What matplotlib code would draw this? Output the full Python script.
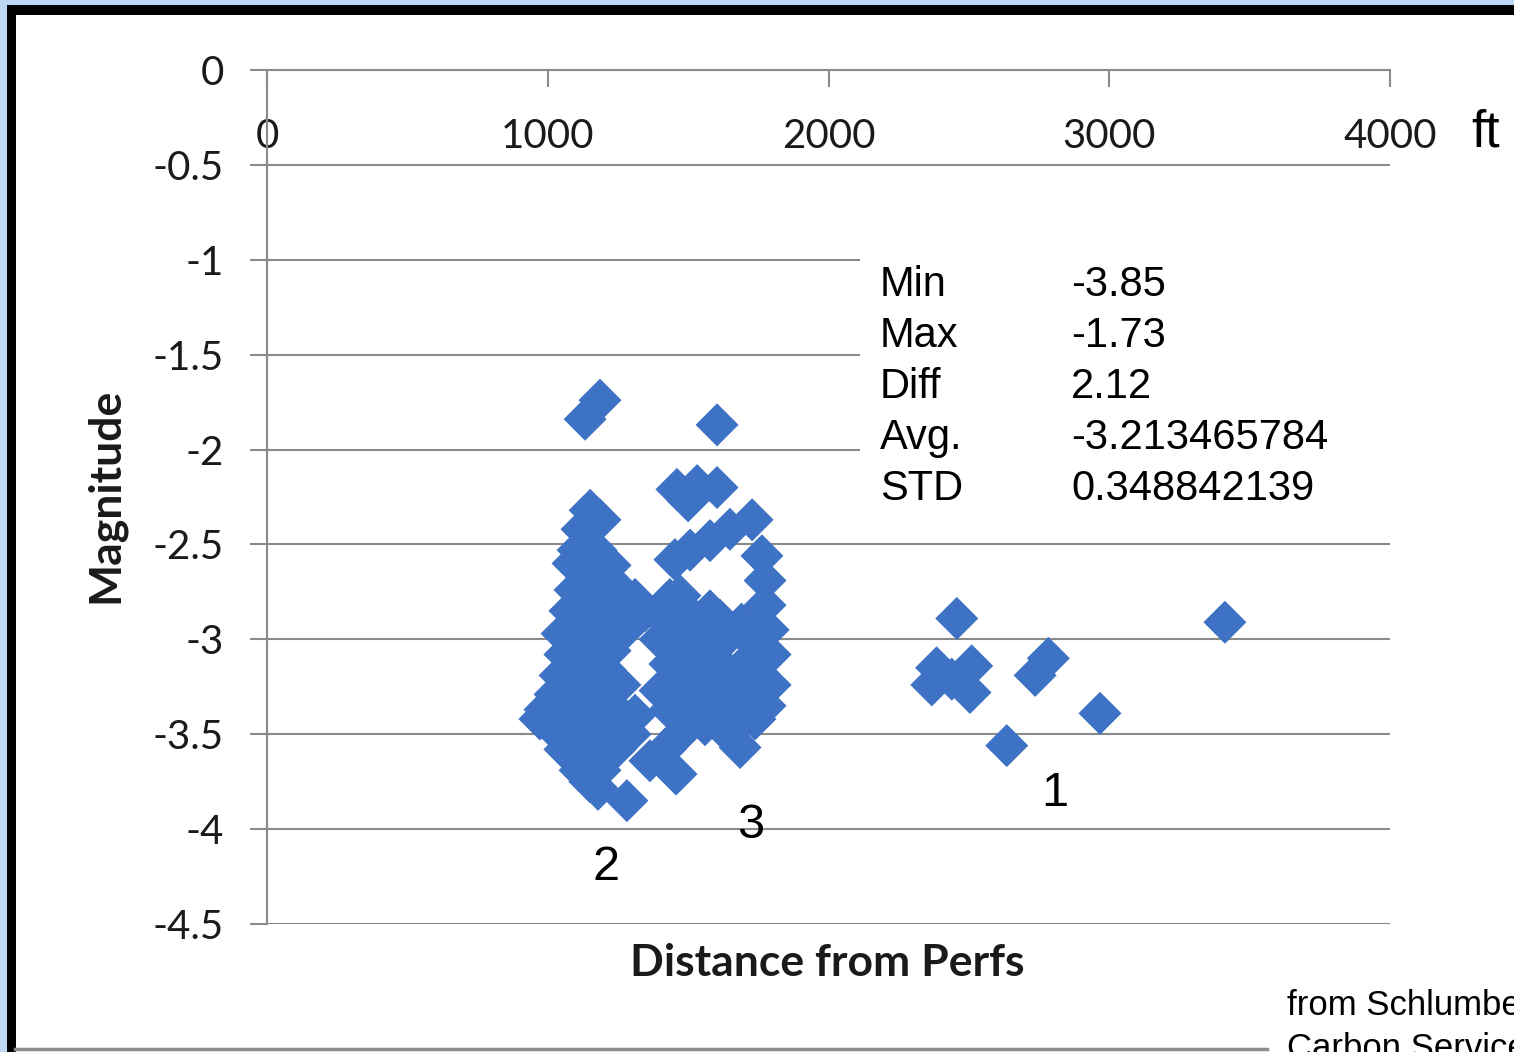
import matplotlib
matplotlib.use("Agg")
import matplotlib.pyplot as plt
from matplotlib.patches import Rectangle
from matplotlib.lines import Line2D

# ---------------- data ----------------
# cluster "2" (near perfs)
dist_c2 = [1186, 1133,
           1151, 1122, 1186,
           1108, 1172,
           1115, 1179, 1222, 1090,
           1097, 1168, 1257, 1311, 1140,
           1079, 1151, 1222, 1293, 1346,
           1051, 1133, 1204, 1275, 1250,
           1061, 1151, 1222, 1100,
           1044, 1133, 1204, 1257, 1180,
           1026, 1097, 1186,
           990, 1079, 1168, 1240, 1311,
           972, 1026, 1115, 1204, 1293, 1060, 1140, 1225,
           1061, 1151, 1240,
           1115, 1186, 1090, 1200,
           1179, 1282, 1150]
mag_c2 = [-1.74, -1.84,
          -2.32, -2.42, -2.37,
          -2.53, -2.53,
          -2.63, -2.63, -2.61, -2.60,
          -2.74, -2.74, -2.74, -2.79, -2.70,
          -2.85, -2.85, -2.85, -2.87, -2.85,
          -2.97, -2.95, -2.95, -2.95, -2.90,
          -3.08, -3.06, -3.06, -3.05,
          -3.19, -3.16, -3.16, -3.24, -3.10,
          -3.29, -3.27, -3.27,
          -3.37, -3.37, -3.37, -3.37, -3.40,
          -3.42, -3.48, -3.48, -3.48, -3.50, -3.42, -3.42, -3.45,
          -3.58, -3.58, -3.58,
          -3.69, -3.69, -3.62, -3.62,
          -3.79, -3.85, -3.75]

# cluster "3"
dist_c3 = [1603,
           1460, 1532, 1603, 1500,
           1728, 1649, 1578, 1507, 1453,
           1763, 1774,
           1471, 1435,
           1774, 1785, 1792, 1792, 1774, 1738,
           1685, 1457,
           1418, 1507, 1578, 1614, 1450, 1540, 1690,
           1400, 1489, 1560, 1631, 1720,
           1435, 1525, 1614, 1703, 1750,
           1460, 1550, 1640,
           1400, 1489, 1578, 1667, 1738,
           1500, 1590, 1680,
           1435, 1525, 1614, 1703,
           1471, 1560, 1631,
           1418, 1364]
mag_c3 = [-1.87,
          -2.21, -2.19, -2.20, -2.27,
          -2.37, -2.42, -2.48, -2.53, -2.58,
          -2.56, -2.69,
          -2.77, -2.79,
          -2.82, -2.95, -3.08, -3.24, -3.35, -3.42,
          -3.57, -3.71,
          -2.90, -2.87, -2.85, -2.90, -2.95, -2.93, -2.92,
          -3.00, -3.00, -3.00, -3.00, -3.00,
          -3.13, -3.11, -3.13, -3.13, -3.18,
          -3.20, -3.20, -3.20,
          -3.27, -3.27, -3.27, -3.27, -3.27,
          -3.33, -3.33, -3.33,
          -3.37, -3.40, -3.37, -3.40,
          -3.50, -3.45, -3.48,
          -3.58, -3.64]

# cluster "1" (far field)
dist_c1 = [2457, 2385, 2510, 2368, 2504, 2439, 2736, 2783, 2635, 2967, 3412]
mag_c1 = [-2.89, -3.15, -3.14, -3.24, -3.28, -3.21, -3.19, -3.10, -3.56, -3.39, -2.91]

x_ticks = [0, 1000, 2000, 3000, 4000]
x_ticklabels = ["0", "1000", "2000", "3000", "4000"]
y_ticks = [0, -0.5, -1, -1.5, -2, -2.5, -3, -3.5, -4, -4.5]
y_ticklabels = ["0", "-0.5", "-1", "-1.5", "-2", "-2.5", "-3", "-3.5", "-4", "-4.5"]

stat_names = ["Min", "Max", "Diff", "Avg.", "STD"]
stat_values = ["-3.85", "-1.73", "2.12", "-3.213465784", "0.348842139"]

cluster_labels = ["1", "2", "3"]

# ---------------- figure ----------------
W, H = 1514, 1052
fig = plt.figure(figsize=(W / 100, H / 100), dpi=100, facecolor="#bcd8f4")


def fx(px):
    return px / W


def fy(py):
    return 1 - py / H


# frame: black border, white page, grey bottom edge (behind the axes)
fig.patches.append(Rectangle((fx(7), fy(1060)), fx(1600) - fx(7), fy(5) - fy(1060),
                             transform=fig.transFigure, facecolor="black", edgecolor="none",
                             zorder=-10))
fig.patches.append(Rectangle((fx(16), fy(1060)), fx(1600) - fx(16), fy(15) - fy(1060),
                             transform=fig.transFigure, facecolor="white", edgecolor="none",
                             zorder=-9))
fig.lines.append(Line2D([fx(15), fx(1267)], [fy(1048.5), fy(1048.5)], transform=fig.transFigure,
                        color="#8c8c8c", lw=2.5, zorder=-8))

grid_col = "#8a8a8a"
ax = fig.add_axes([fx(267), fy(924), fx(1390) - fx(267), fy(70) - fy(924)])
ax.set_zorder(1)
ax.set_facecolor("white")
ax.set_xlim(0, 4000)
ax.set_ylim(-4.5, 0)
ax.set_axisbelow(True)

for s in ["bottom", "right"]:
    ax.spines[s].set_visible(False)
for s in ["left", "top"]:
    ax.spines[s].set_color(grid_col)
    ax.spines[s].set_linewidth(1.5)

tick_font = dict(family=["Lato", "DejaVu Sans"], size=29, color="#1a1a1a")

ax.set_xticks(x_ticks)
ax.set_xticklabels(x_ticklabels, **tick_font)
ax.xaxis.set_ticks_position("top")
ax.tick_params(axis="x", direction="in", length=12, width=1.5, color=grid_col,
               labeltop=True, labelbottom=False, pad=-61)

ax.set_yticks(y_ticks)
ax.set_yticklabels(y_ticklabels, **tick_font)
ax.tick_params(axis="y", direction="out", length=12, width=1.5, color=grid_col, pad=19)

ax.yaxis.grid(True, color=grid_col, lw=1.5)
ax.xaxis.grid(False)

# white stats box covering the gridlines
ax.add_patch(Rectangle((fx(860), fy(533)), fx(1393) - fx(860), fy(250) - fy(533),
                       transform=fig.transFigure, facecolor="white", edgecolor="none",
                       zorder=1.5, clip_on=False))

marker_col = "#3e72c4"
ax.scatter(dist_c2 + dist_c3 + dist_c1, mag_c2 + mag_c3 + mag_c1, marker="D", s=480,
           color=marker_col, edgecolors="none", zorder=3, clip_on=False)

# axis titles
title_font = dict(family=["Lato", "DejaVu Sans"], weight="bold", size=32, color="#1a1a1a")
fig.text(fx(105), fy(495), "Magnitude", rotation=90, ha="center", va="center", **title_font)
fig.text(fx(827), fy(963), "Distance from Perfs", ha="center", va="center", **title_font)

arial = ["Liberation Sans", "DejaVu Sans"]
fig.text(fx(1471), fy(133), "ft", ha="left", va="center", family=arial, size=37, color="black")

# stats table
rows_y = [285, 336, 387, 438, 489]
for name, val, yy in zip(stat_names, stat_values, rows_y):
    fig.text(fx(880), fy(yy), name, ha="left", va="center", family=arial, size=30, color="black")
    fig.text(fx(1071), fy(yy), val, ha="left", va="center", family=arial, size=30, color="black")

# cluster labels
label_pos = [(1055, 793), (606, 868), (751, 825)]
for lab, (px, py) in zip(cluster_labels, label_pos):
    fig.text(fx(px), fy(py), lab, ha="center", va="center", family=arial, size=35, color="black")

# source note (clipped at figure edge, as in the reference)
fig.text(fx(1287), fy(1005), "from Schlumberger", ha="left", va="center", family=arial,
         size=25, color="black")
fig.text(fx(1287), fy(1049), "Carbon Services", ha="left", va="center", family=arial,
         size=25, color="black")

fig.savefig("out.png", dpi=100, facecolor=fig.get_facecolor())
